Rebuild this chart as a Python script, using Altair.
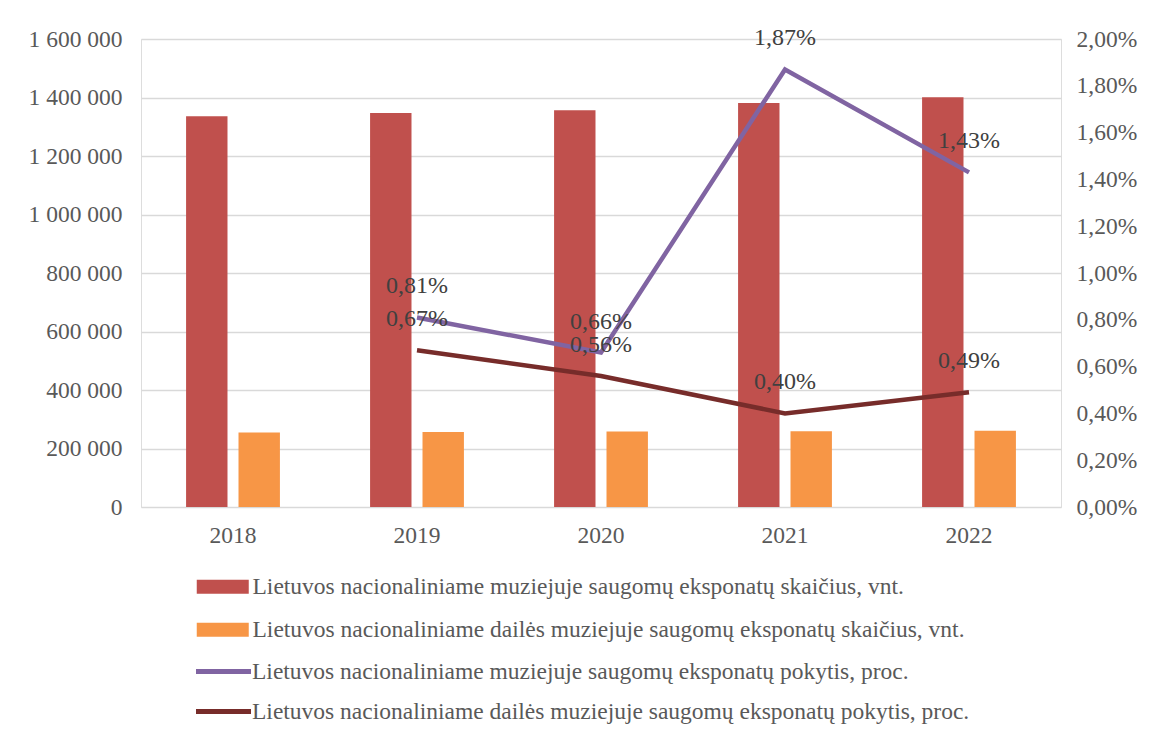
import altair as alt
import pandas as pd

years = ["2018", "2019", "2020", "2021", "2022"]
s_bar1 = "Lietuvos nacionaliniame muziejuje saugomų eksponatų skaičius, vnt."
s_bar2 = "Lietuvos nacionaliniame dailės muziejuje saugomų eksponatų skaičius, vnt."
s_line1 = "Lietuvos nacionaliniame muziejuje saugomų eksponatų pokytis, proc."
s_line2 = "Lietuvos nacionaliniame dailės muziejuje saugomų eksponatų pokytis, proc."

museum_count = [1336000, 1347000, 1356000, 1381000, 1401000]
art_count = [255000, 256700, 258100, 259100, 260400]
museum_change = [None, 0.81, 0.66, 1.87, 1.43]
art_change = [None, 0.67, 0.56, 0.40, 0.49]

left_ticks = [0, 200000, 400000, 600000, 800000, 1000000, 1200000, 1400000, 1600000]
right_ticks = [0, 0.2, 0.4, 0.6, 0.8, 1.0, 1.2, 1.4, 1.6, 1.8, 2.0]

bar_rows = []
for i, y in enumerate(years):
    bar_rows.append({"year": y, "series": s_bar1, "value": museum_count[i]})
    bar_rows.append({"year": y, "series": s_bar2, "value": art_count[i]})
bars_df = pd.DataFrame(bar_rows)

line_rows = []
for i, y in enumerate(years):
    if museum_change[i] is not None:
        line_rows.append({"year": y, "series": s_line1, "pct": museum_change[i]})
    if art_change[i] is not None:
        line_rows.append({"year": y, "series": s_line2, "pct": art_change[i]})
lines_df = pd.DataFrame(line_rows)

FONT = "Liberation Serif"
LBL = "#595959"
AX_FS = 23.5

xenc = alt.X("year:N", sort=years,
             scale=alt.Scale(paddingInner=0.49, paddingOuter=0.245),
             axis=alt.Axis(title=None, labelAngle=0, domain=False, ticks=False,
                           labelFont=FONT, labelFontSize=AX_FS, labelColor=LBL,
                           labelPadding=16))

bars = alt.Chart(bars_df).mark_bar().encode(
    x=xenc,
    xOffset=alt.XOffset("series:N", sort=[s_bar1, s_bar2],
                        scale=alt.Scale(paddingInner=0.21)),
    y=alt.Y("value:Q",
            scale=alt.Scale(domain=[0, 1600000], nice=False),
            axis=alt.Axis(title=None, orient="left", values=left_ticks,
                          grid=True, gridColor="#d9d9d9", gridWidth=1.3,
                          domain=False, ticks=False,
                          labelFont=FONT, labelFontSize=AX_FS, labelColor=LBL,
                          labelPadding=19,
                          labelExpr="replace(format(datum.value, ','), regexp(',', 'g'), ' ')")),
    color=alt.Color("series:N", sort=[s_bar1, s_bar2],
                    scale=alt.Scale(domain=[s_bar1, s_bar2], range=["#C0504D", "#F79646"]),
                    legend=alt.Legend(title=None, orient="none", legendX=70, legendY=536,
                                      direction="vertical",
                                      symbolType="M-2.6,-0.7L2.6,-0.7L2.6,0.7L-2.6,0.7Z",
                                      symbolSize=400, symbolStrokeWidth=0,
                                      labelFont=FONT, labelFontSize=AX_FS, labelColor=LBL,
                                      labelLimit=900, rowPadding=18, labelOffset=18,
                                      symbolOffset=0, padding=0)),
)

yr = alt.Y("pct:Q",
           scale=alt.Scale(domain=[0, 2.0], nice=False),
           axis=alt.Axis(title=None, orient="right", values=right_ticks,
                         grid=False, domain=False, ticks=False,
                         labelFont=FONT, labelFontSize=AX_FS, labelColor=LBL,
                         labelPadding=15,
                         labelExpr="replace(format(datum.value, '.2f'), '.', ',') + '%'"))

lines = alt.Chart(lines_df).mark_line(strokeWidth=4.5).encode(
    x=alt.X("year:N", sort=years),
    y=yr,
    stroke=alt.Stroke("series:N", sort=[s_line1, s_line2],
                      scale=alt.Scale(domain=[s_line1, s_line2], range=["#8064A2", "#772C2A"]),
                      legend=alt.Legend(title=None, orient="none", legendX=70, legendY=620,
                                        direction="vertical",
                                        symbolType="M-2.75,0L2.75,0",
                                        symbolSize=400, symbolStrokeWidth=5,
                                        labelFont=FONT, labelFontSize=AX_FS, labelColor=LBL,
                                        labelLimit=900, rowPadding=16, labelOffset=16,
                                        symbolOffset=0, padding=0)),
)

texts = alt.Chart(lines_df).mark_text(
    font=FONT, fontSize=24, color="#404040", dy=-31, baseline="middle"
).encode(
    x=alt.X("year:N", sort=years),
    y=alt.Y("pct:Q", scale=alt.Scale(domain=[0, 2.0], nice=False)),
    text=alt.Text("lbl:N"),
).transform_calculate(
    lbl="replace(format(datum.pct, '.2f'), '.', ',') + '%'"
)

chart = alt.layer(bars, alt.layer(lines, texts)).resolve_scale(
    y="independent", color="independent"
).properties(
    width=920, height=468,
    padding={"left": 20, "top": 18, "right": 5, "bottom": 5},
).configure_view(stroke=None).configure(background="white")

chart.save("out.html", embed_options={"renderer": "svg", "actions": False})
